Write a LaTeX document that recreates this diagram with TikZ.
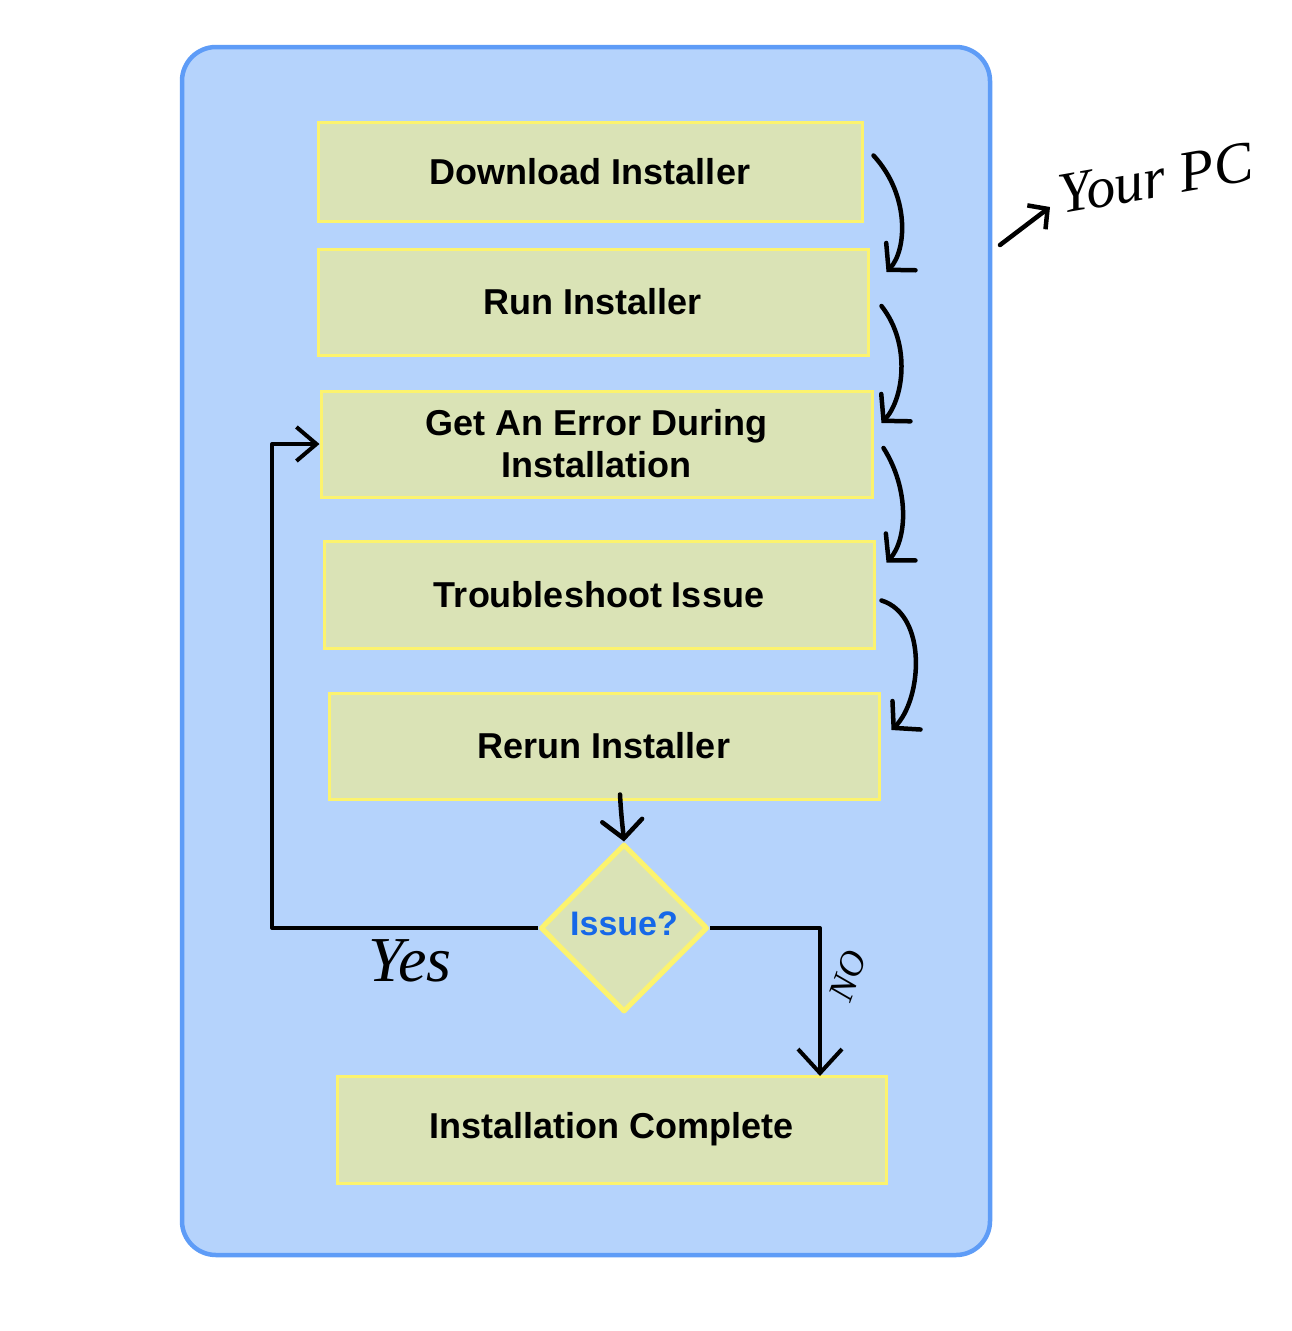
\documentclass[tikz,border=0pt]{standalone}
\usepackage{fontspec}
\setmainfont{Liberation Sans}
\newfontfamily\handfont{Liberation Serif}
\usetikzlibrary{shapes.geometric,arrows.meta,calc}
\definecolor{outerfill}{HTML}{B5D3FC}
\definecolor{outerline}{HTML}{5E9CF7}
\definecolor{boxfill}{HTML}{DAE3B6}
\definecolor{boxline}{HTML}{FCF36E}
\definecolor{issueblue}{HTML}{1668E8}
\begin{document}
\begin{tikzpicture}[x=1pt,y=-1pt,
  stepbox/.style={draw=boxline,fill=boxfill,line width=3pt,inner sep=0pt,
    align=center,font=\bfseries\fontsize{36}{42}\selectfont},
  decision/.style={diamond,draw=boxline,fill=boxfill,line width=5pt,line join=round,
    inner sep=0pt,minimum width=167pt,minimum height=168pt,text=issueblue,
    font=\bfseries\fontsize{34}{40}\selectfont},
  hand/.style={line width=4.5pt,line cap=round,line join=round,
    -{Straight Barb[length=18pt,width=40pt,line cap=round]}},
  flow/.style={line width=4pt,line join=round},
  handtext/.style={font=\handfont\itshape\fontsize{58}{62}\selectfont}
]
\useasboundingbox (0,0) rectangle (1291,1331);
\fill[white] (0,0) rectangle (1291,1331);
% outer frame
\draw[outerline,fill=outerfill,line width=4.5pt,rounded corners=34pt] (182,47) rectangle (990,1255);

% steps
\node[stepbox,minimum width=544pt,minimum height=99pt] (b1) at (590,171.5) {Download Installer};
\node[stepbox,minimum width=550pt,minimum height=106pt] (b2) at (593,302) {Run Installer};
\node[stepbox,minimum width=551pt,minimum height=106pt] (b3) at (596.5,444) {Get An Error During\\Installation};
\node[stepbox,minimum width=550pt,minimum height=107pt] (b4) at (599,594.5) {Troubleshoot Issue};
\node[stepbox,minimum width=550pt,minimum height=106pt] (b5) at (604,746) {Rerun Installer};
\node[stepbox,minimum width=549pt,minimum height=107pt] (b6) at (611.5,1129.5) {Installation Complete};
\node[decision] (dia) at (624,928) {\raisebox{8pt}{Issue?}};

% hand-drawn arrows between steps
\draw[hand] ([shift={(10,-16)}]b1.east) .. controls (910,195) and (907,250) .. ([shift={(17,-30)}]b2.east);
\draw[hand] ([shift={(12,4)}]b2.east) .. controls (912,345) and (903,400) .. ([shift={(8,-21)}]b3.east);
\draw[hand] ([shift={(10,4)}]b3.east) .. controls (910,490) and (907,540) .. ([shift={(11,-32)}]b4.east);
\draw[hand] ([shift={(6,6)}]b4.east) .. controls (928,615) and (922,700) .. ([shift={(11,-16)}]b5.east);
\draw[hand] ([shift={(16,-6)}]b5.south) .. controls (621,815) and (623,830) .. (dia.north);

% decision branches
\coordinate (yescorner) at (272,928);
\coordinate (noend) at (820,1076);
\draw[flow,-{Straight Barb[length=20pt,width=34pt]}] (dia.west) -- (yescorner) |- (b3.west);
\draw[flow,-{Straight Barb[length=24pt,width=44pt]}] (dia.east) -| (noend);
\node[handtext,font=\handfont\itshape\fontsize{64}{68}\selectfont] (yes) at (410,961) {Yes};
\node[handtext,font=\handfont\itshape\fontsize{36}{40}\selectfont,rotate=70] (no) at (848,976) {NO};

% annotation
\node[handtext,rotate=10,anchor=west] (pc) at (1056,196) {Your PC};
\coordinate (pcstart) at (1000,245);
\draw[hand,-{Straight Barb[length=14pt,width=30pt]}] (pcstart) -- (1050,207);
\end{tikzpicture}
\end{document}
